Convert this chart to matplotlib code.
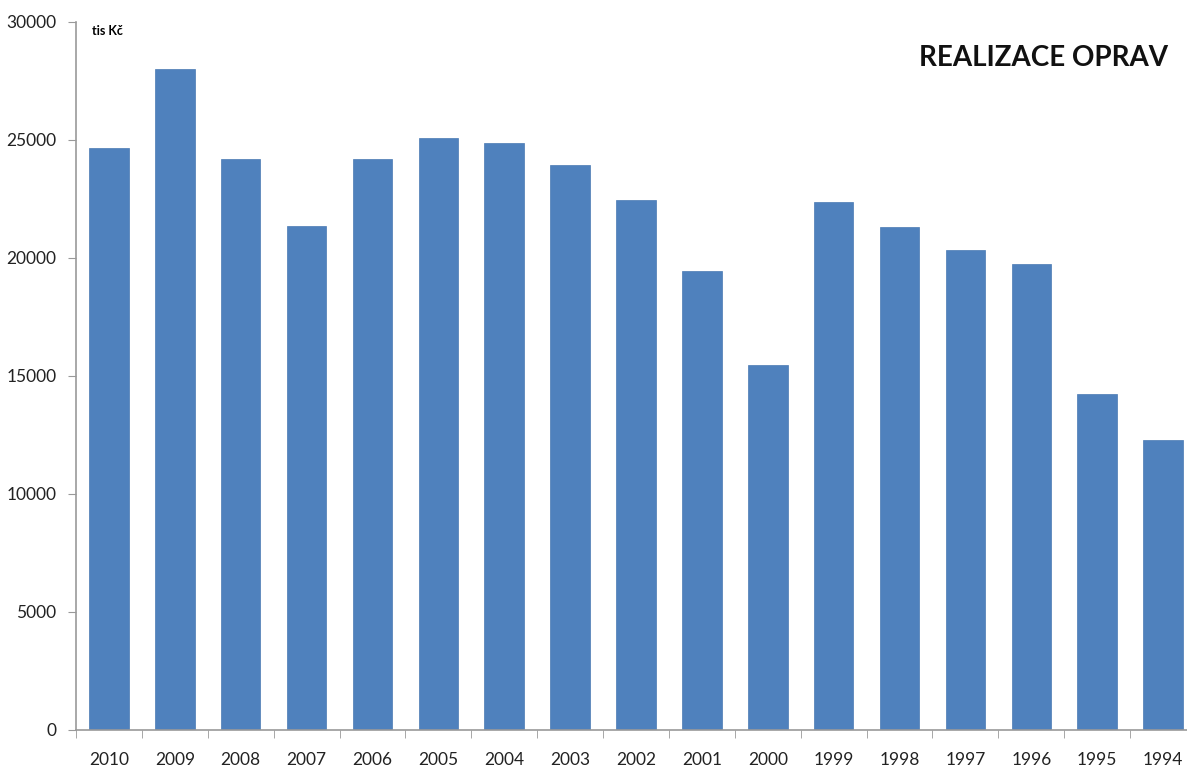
import numpy as np
import matplotlib.pyplot as plt

years = ['2010', '2009', '2008', '2007', '2006', '2005', '2004', '2003', '2002',
         '2001', '2000', '1999', '1998', '1997', '1996', '1995', '1994']
values = [24650, 28000, 24200, 21350, 24200, 25080, 24870, 23940, 22460,
          19450, 15470, 22370, 21310, 20340, 19750, 14240, 12290]

plt.rcParams['font.family'] = ['Lato', 'DejaVu Sans']

fig = plt.figure(figsize=(11.87, 7.67), dpi=100)
ax = fig.add_axes([76/1187, 37/767, (1196-76)/1187, 708/767])

x = np.arange(len(years))
ax.bar(x, values, width=0.6, color='#4F81BD', edgecolor='#4A7AB3', linewidth=0.5)

ax.set_xlim(-0.5, len(years) - 0.5)
ax.set_ylim(0, 30000)
ax.set_yticks(range(0, 30001, 5000))
ax.set_xticks(x)
ax.set_xticklabels(years)
ax.set_xticks(np.arange(-0.5, len(years), 1), minor=True)
ax.tick_params(axis='x', which='major', length=0, pad=16, labelsize=12.5, labelcolor='#222222')
ax.tick_params(axis='x', which='minor', length=6, color='#999999', direction='out')
ax.tick_params(axis='y', length=6, color='#999999', pad=8, labelsize=12.5, labelcolor='#222222')

for s in ['top', 'right']:
    ax.spines[s].set_visible(False)
for s in ['left', 'bottom']:
    ax.spines[s].set_color('#999999')
    ax.spines[s].set_linewidth(1.2)

fig.text(92/1187, 1 - 31/767, 'tis Kč', fontsize=9, fontweight='bold', va='center', ha='left')
fig.text(1168/1187, 1 - 58/767, 'REALIZACE OPRAV', fontsize=20, fontweight='bold',
         va='center', ha='right', color='#111111')

fig.savefig('out.png', dpi=100)
